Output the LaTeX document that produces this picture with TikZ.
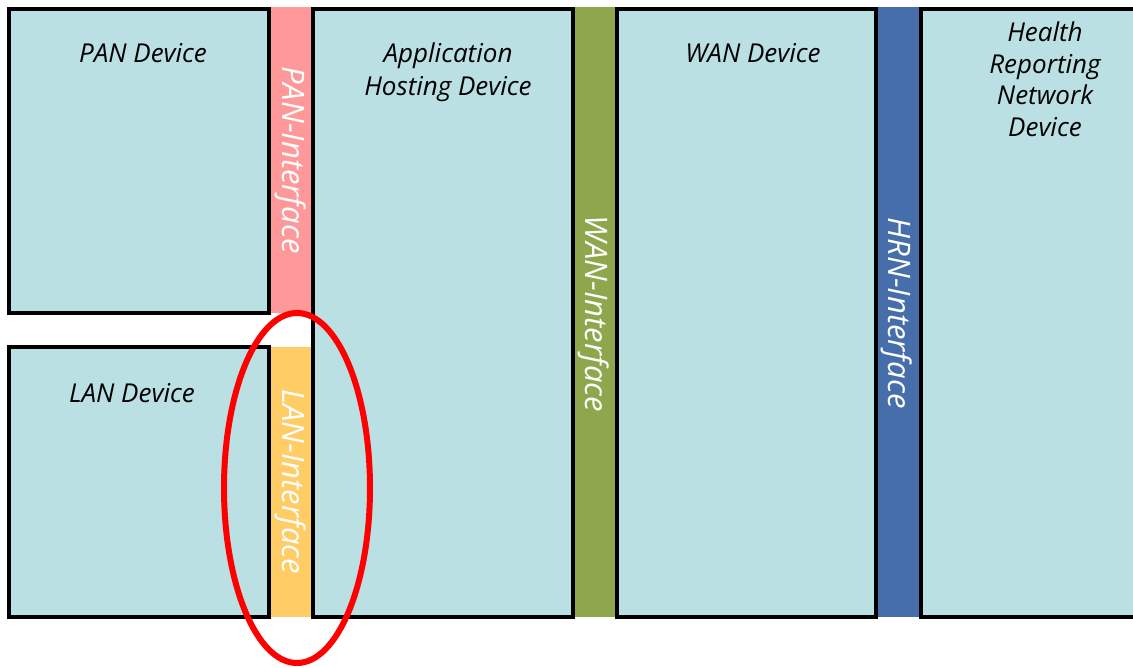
\documentclass[tikz,border=0pt]{standalone}
\usepackage{fontspec}
\setmainfont{Open Sans}
\definecolor{devfill}{HTML}{BBE0E3}
\definecolor{panc}{HTML}{FF9999}
\definecolor{lanc}{HTML}{FFCC66}
\definecolor{wanc}{HTML}{8EA64C}
\definecolor{hrnc}{HTML}{466EAA}
\begin{document}
\begin{tikzpicture}[x=1pt,y=-1pt,
  device/.style={draw=black, line width=3.5pt, fill=devfill},
  bar/.style={inner sep=0pt, outer sep=0pt},
  devlabel/.style={font=\fontsize{26}{33}\selectfont\itshape, align=center, text=black},
  barlabel/.style={font=\fontsize{31}{30}\selectfont\itshape, text=white, rotate=-90}]
\clip (0,0) rectangle (1133,667);
\fill[white] (0,0) rectangle (1133,667);
% interface bars
\fill[panc] (270,7) rectangle (312,313);
\fill[lanc] (270,347) rectangle (312,617);
\fill[wanc] (574,7) rectangle (616,617);
\fill[hrnc] (877,7) rectangle (920,617);
\node[bar] (panbar) at (291,160) {};
\node[bar] (lanbar) at (291,482) {};
\node[bar] (wanbar) at (594,314) {};
\node[bar] (hrnbar) at (897,313) {};
% devices
\draw[device] (9,9) rectangle (269,313);
\draw[device] (9,347) rectangle (269,617);
\draw[device] (313,9) rectangle (573,617);
\draw[device] (617,9) rectangle (876,617);
\draw[device] (921,9) rectangle (1180,617);
% device labels
\node[devlabel] (pan) at (143,53) {PAN Device};
\node[devlabel] (lan) at (132,393) {LAN Device};
\node[devlabel] (app) at (448,72) {Application\\Hosting Device};
\node[devlabel, font=\fontsize{26}{31.5}\selectfont\itshape] (hrn) at (1045,79) {Health\\Reporting\\Network\\Device};
\node[devlabel] (wan) at (753,53) {WAN Device};
% interface labels
\node[barlabel] (panl) at (panbar) {PAN-Interface};
\node[barlabel] (lanl) at (lanbar) {LAN-Interface};
\node[barlabel] (wanl) at (wanbar) {WAN-Interface};
\node[barlabel] (hrnl) at (hrnbar) {HRN-Interface};
% highlight
\draw[red, line width=6pt] (297,488) ellipse [x radius=73, y radius=175];
\end{tikzpicture}
\end{document}
